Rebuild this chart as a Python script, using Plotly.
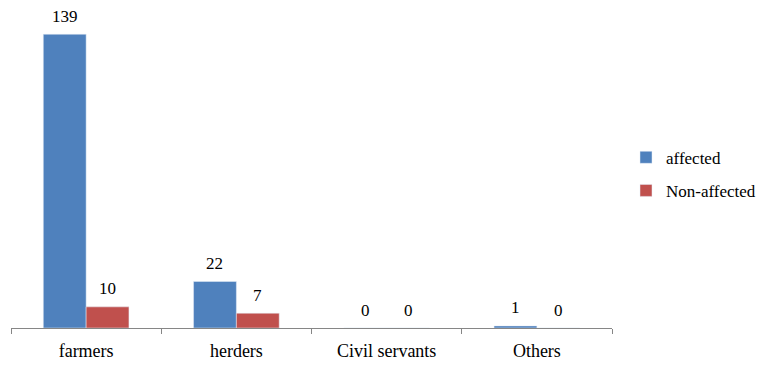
import plotly.graph_objects as go

categories = ["farmers", "herders", "Civil servants", "Others"]
affected = [139, 22, 0, 1]
non_affected = [10, 7, 0, 0]

W, H = 761, 366
ml, mr, mt, mb = 11, 149, 11, 38

font = "Liberation Serif"

fig = go.Figure()
fig.add_trace(go.Bar(x=categories, y=affected, name="affected",
                     marker_color="#4F81BD", legendgroup="a", offsetgroup="a"))
fig.add_trace(go.Bar(x=categories, y=non_affected, name="Non-affected",
                     marker_color="#C0504D", legendgroup="b", offsetgroup="b"))

half_bar = 21.5
for vals, shift in ((affected, -half_bar), (non_affected, half_bar)):
    for c, v in zip(categories, vals):
        fig.add_annotation(x=c, y=v, text=str(v), showarrow=False,
                           xshift=shift, yshift=18, yanchor="middle",
                           font=dict(family=font, size=17, color="#000"))

fig.update_layout(
    width=W, height=H,
    margin=dict(l=ml, r=mr, t=mt, b=mb, autoexpand=False),
    paper_bgcolor="white", plot_bgcolor="white",
    barmode="group", bargap=0.43, bargroupgap=0,
    font=dict(family=font, size=18, color="#000"),
    showlegend=True,
    legend=dict(x=(626 - ml) / (W - ml - mr), xanchor="left",
                y=0.485, yanchor="middle",
                font=dict(family=font, size=17), traceorder="grouped", tracegroupgap=8,
                bgcolor="rgba(0,0,0,0)"),
    xaxis=dict(showline=True, linecolor="#868686", linewidth=1,
               ticks="outside", tickson="boundaries", ticklen=5,
               tickcolor="#868686", showgrid=False, ticklabelstandoff=6,
               automargin=False, tickfont=dict(family=font, size=18)),
    yaxis=dict(visible=False, range=[0, 150], showgrid=False, zeroline=False,
               automargin=False),
)

fig.write_html("out.html")
